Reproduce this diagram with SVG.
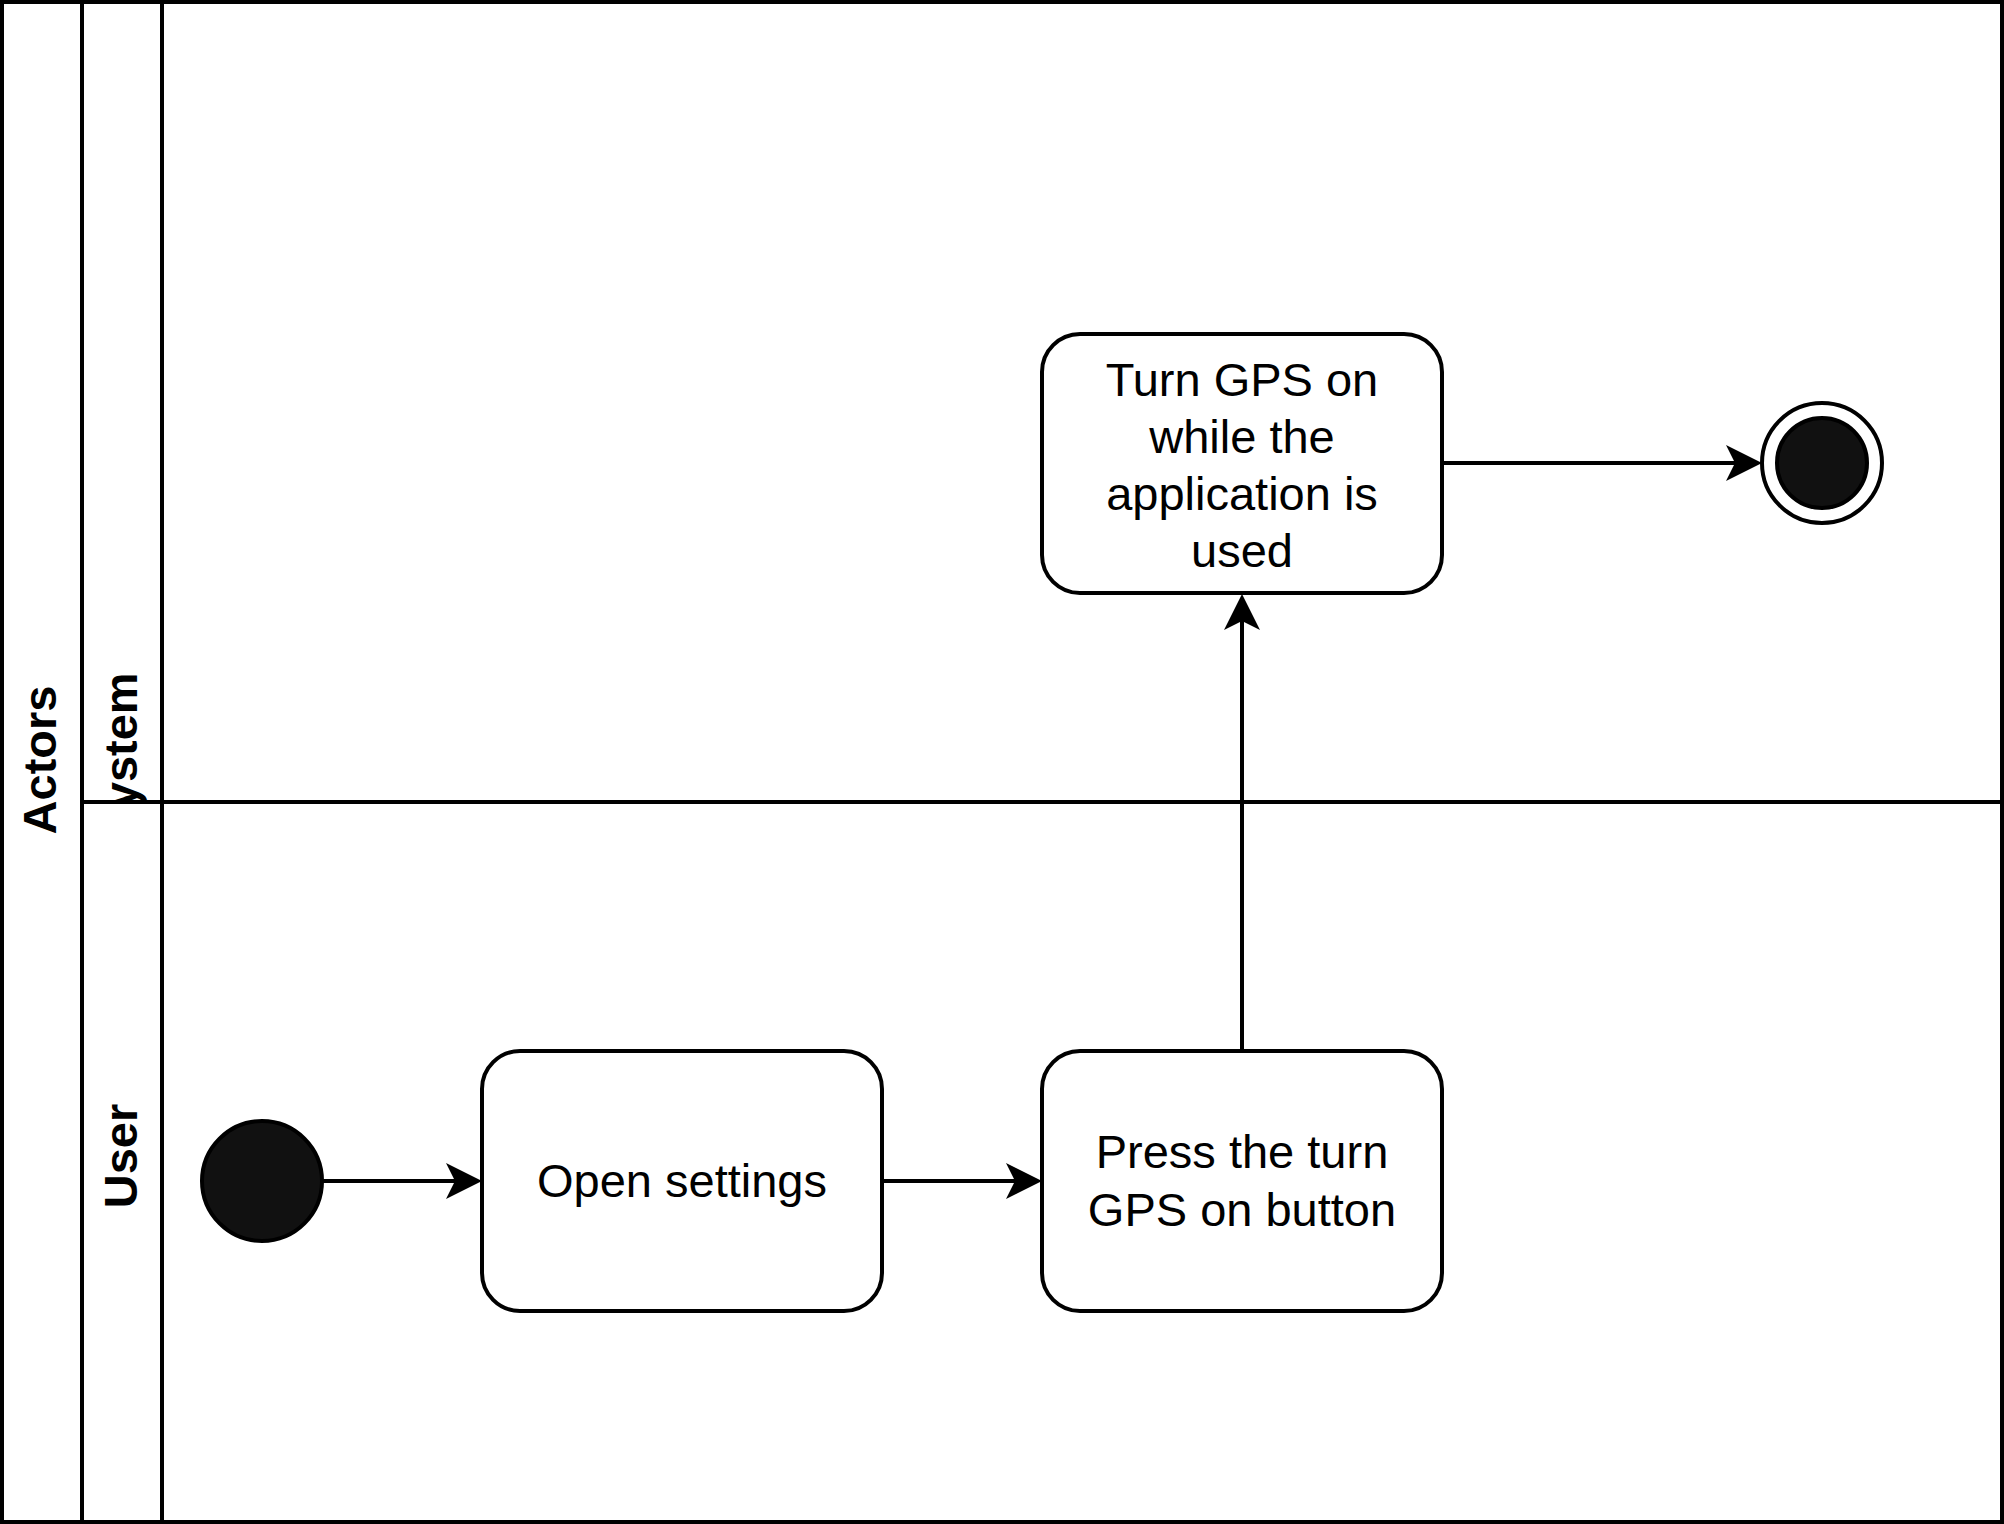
<svg xmlns="http://www.w3.org/2000/svg" width="2004" height="1524" viewBox="0 0 2004 1524">
<style>
.line{stroke:#000;stroke-width:4;fill:none}
.box{fill:#fff;stroke:#000;stroke-width:4}
.lbl{font-family:"Liberation Sans",Arial,Helvetica,sans-serif;font-size:47px;fill:#000;text-anchor:middle}
.hdr{font-family:"Liberation Sans",Arial,Helvetica,sans-serif;font-size:47px;font-weight:bold;fill:#000;text-anchor:middle}
.dot{fill:#111;stroke:#000;stroke-width:4}
</style>
<defs>
<clipPath id="sysclip"><rect x="82" y="0" width="80" height="800"/></clipPath>
<path id="ah" d="M0,0 L-36,-18 L-27,0 L-36,18 Z" fill="#000"/>
</defs>
<rect width="2004" height="1524" fill="#fff"/>
<g id="pool">
<rect x="2" y="2" width="2000" height="1520" class="line"/>
<line x1="82" y1="2" x2="82" y2="1522" class="line"/>
<line x1="162" y1="2" x2="162" y2="1522" class="line"/>
<line x1="82" y1="802" x2="2002" y2="802" class="line"/>
<text class="hdr" transform="translate(56,760) rotate(-90)">Actors</text>
</g>
<g id="lane-system" clip-path="url(#sysclip)">
<text class="hdr" transform="translate(137,756) rotate(-90)">System</text>
</g>
<g id="lane-user">
<text class="hdr" transform="translate(137,1156) rotate(-90)">User</text>
</g>
<g id="connectors">
<line x1="323" y1="1181" x2="460" y2="1181" class="line"/>
<use href="#ah" transform="translate(482,1181)"/>
<line x1="882" y1="1181" x2="1020" y2="1181" class="line"/>
<use href="#ah" transform="translate(1042,1181)"/>
<line x1="1242" y1="1050" x2="1242" y2="615" class="line"/>
<use href="#ah" transform="translate(1242,594) rotate(-90)"/>
<line x1="1442" y1="463" x2="1740" y2="463" class="line"/>
<use href="#ah" transform="translate(1762,463)"/>
</g>
<g id="start">
<circle cx="262" cy="1181" r="60" class="dot"/>
</g>
<g id="open-settings">
<rect x="482" y="1051" width="400" height="260" rx="38" class="box"/>
<text class="lbl" x="682" y="1197">Open settings</text>
</g>
<g id="press-button">
<rect x="1042" y="1051" width="400" height="260" rx="38" class="box"/>
<text class="lbl" x="1242" y="1168">Press the turn</text>
<text class="lbl" x="1242" y="1226">GPS on button</text>
</g>
<g id="turn-gps-on">
<rect x="1042" y="334" width="400" height="259" rx="38" class="box"/>
<text class="lbl" x="1242" y="396">Turn GPS on</text>
<text class="lbl" x="1242" y="453">while the</text>
<text class="lbl" x="1242" y="510">application is</text>
<text class="lbl" x="1242" y="567">used</text>
</g>
<g id="end">
<circle cx="1822" cy="463" r="60" fill="#fff" stroke="#000" stroke-width="4"/>
<circle cx="1822" cy="463" r="45" class="dot"/>
</g>
</svg>
